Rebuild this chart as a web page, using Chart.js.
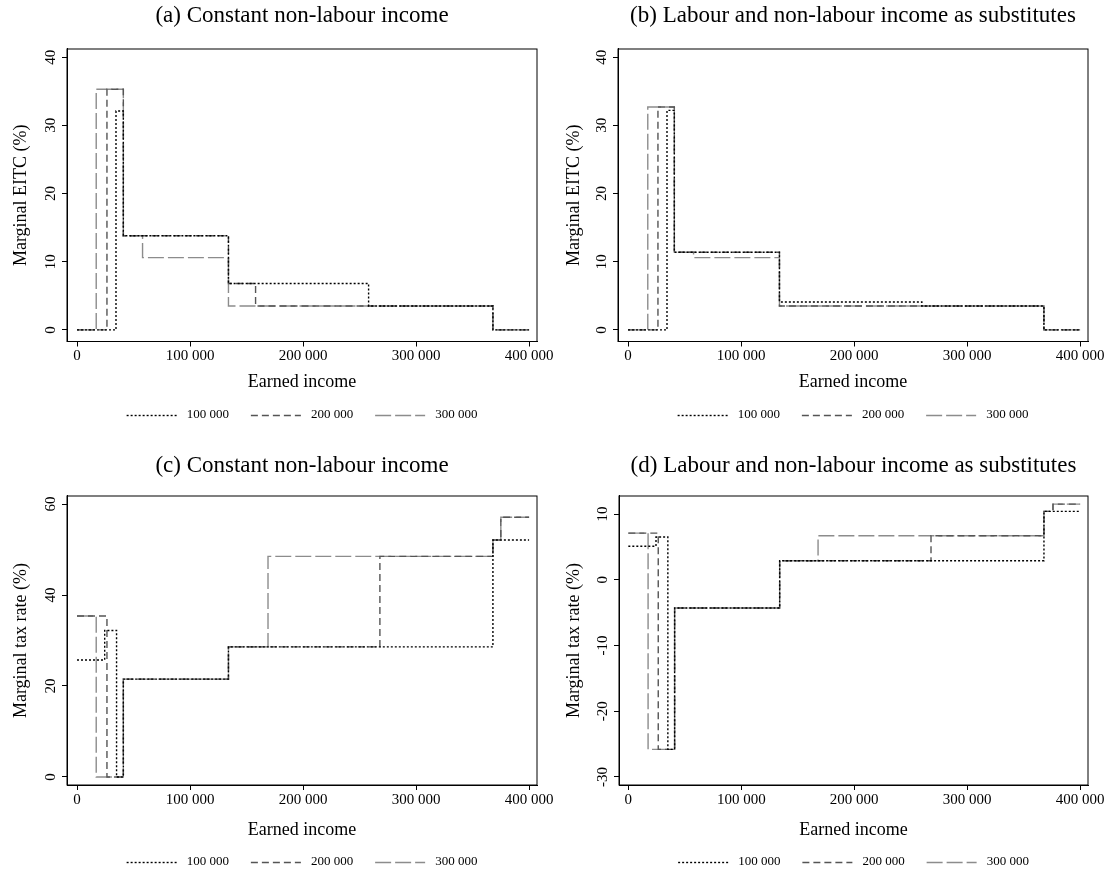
<!DOCTYPE html>
<html><head><meta charset="utf-8">
<script src="https://cdn.jsdelivr.net/npm/chart.js@4.4.1/dist/chart.umd.min.js"></script>
<style>
html,body{margin:0;padding:0;background:#fff;overflow:hidden;width:1108px;height:873px;position:relative}
canvas{position:absolute}
</style></head><body>
<canvas id="ca" width="554" height="437" style="left:0;top:0"></canvas>
<canvas id="cb" width="554" height="437" style="left:554px;top:0"></canvas>
<canvas id="cc" width="554" height="450" style="left:0;top:437px"></canvas>
<canvas id="cd" width="554" height="450" style="left:554px;top:437px"></canvas>
<script>
// ---- data ----
const seriesLabels = ['100 000', '200 000', '300 000'];
const xTickValues = [0, 100000, 200000, 300000, 400000];
const xTickLabels = ['0', '100 000', '200 000', '300 000', '400 000'];

// (a) Marginal EITC, constant non-labour income (value holds from x onward)
const a100X = [0, 34500, 41000, 134000, 258000, 368000, 400000];
const a100Y = [0, 32.1, 13.8, 6.8, 3.5, 0, 0];
const a200X = [0, 26500, 41000, 134000, 158000, 368000, 400000];
const a200Y = [0, 35.3, 13.8, 6.8, 3.5, 0, 0];
const a300X = [0, 17000, 41000, 58000, 134000, 368000, 400000];
const a300Y = [0, 35.3, 13.8, 10.6, 3.5, 0, 0];
const aYTicks = [0, 10, 20, 30, 40];

// (b) Marginal EITC, substitutes
const b100X = [0, 34500, 41000, 134000, 260000, 368000, 400000];
const b100Y = [0, 32.2, 11.4, 4.1, 3.5, 0, 0];
const b200X = [0, 26500, 41000, 134000, 368000, 400000];
const b200Y = [0, 32.7, 11.4, 3.5, 0, 0];
const b300X = [0, 17500, 41000, 58000, 134000, 368000, 400000];
const b300Y = [0, 32.7, 11.4, 10.6, 3.5, 0, 0];
const bYTicks = [0, 10, 20, 30, 40];

// (c) Marginal tax rate, constant non-labour income
const c100X = [0, 24500, 35000, 41000, 134000, 368000, 400000];
const c100Y = [25.7, 32.2, 0, 21.5, 28.6, 52.1, 52.1];
const c200X = [0, 26500, 41000, 134000, 268000, 368000, 375000, 400000];
const c200Y = [35.4, 0, 21.5, 28.6, 48.5, 52.1, 57.1, 57.1];
const c300X = [0, 17000, 41000, 134000, 169000, 368000, 375000, 400000];
const c300Y = [35.4, 0, 21.5, 28.6, 48.5, 52.1, 57.1, 57.1];
const cYTicks = [0, 20, 40, 60];

// (d) Marginal tax rate, substitutes
const d100X = [0, 24500, 35000, 41000, 134000, 368000, 400000];
const d100Y = [5.1, 6.5, -25.8, -4.3, 2.9, 10.4, 10.4];
const d200X = [0, 26500, 41000, 134000, 268000, 368000, 376000, 400000];
const d200Y = [7.1, -25.8, -4.3, 2.9, 6.7, 10.4, 11.5, 11.5];
const d300X = [0, 17500, 41000, 134000, 168000, 368000, 376000, 400000];
const d300Y = [7.1, -25.8, -4.3, 2.9, 6.7, 10.4, 11.5, 11.5];
const dYTicks = [-30, -20, -10, 0, 10];

// ---- styles ----
const FONT = 'Liberation Serif';
const lineStyles = [
  {color: '#000000', dash: [2, 2]},
  {color: '#555555', dash: [7, 4]},
  {color: '#8c8c8c', dash: [16, 4]}
];

const framePlugin = {
  id: 'frame',
  afterDatasetsDraw(chart) {
    const {ctx, chartArea: {left, top, right, bottom}} = chart;
    ctx.save();
    ctx.strokeStyle = '#000';
    ctx.lineWidth = 1;
    ctx.setLineDash([]);
    ctx.strokeRect(left, top, right - left, bottom - top);
    ctx.restore();
  }
};

// legend drawn from the datasets (dashed line samples + labels)
const dashLegend = {
  id: 'dashLegend',
  afterDraw(chart, args, opts) {
    const {ctx, chartArea} = chart;
    const ds = chart.data.datasets;
    const lineW = 50, gapText = 10, gapItem = 22;
    ctx.save();
    ctx.font = '13px "' + FONT + '"';
    ctx.textBaseline = 'middle';
    ctx.textAlign = 'left';
    const widths = ds.map(d => ctx.measureText(d.label).width);
    let total = 0;
    widths.forEach((w, i) => { total += lineW + gapText + w + (i < widths.length - 1 ? gapItem : 0); });
    let x = (chartArea.left + chartArea.right) / 2 - total / 2;
    const y = opts.y;
    ds.forEach((d, i) => {
      ctx.beginPath();
      ctx.setLineDash(d.borderDash);
      ctx.strokeStyle = d.borderColor;
      ctx.lineWidth = d.borderWidth;
      ctx.moveTo(x, y + 0.5);
      ctx.lineTo(x + lineW, y + 0.5);
      ctx.stroke();
      ctx.setLineDash([]);
      ctx.fillStyle = '#000';
      ctx.fillText(d.label, x + lineW + gapText, y);
      x += lineW + gapText + widths[i] + gapItem;
    });
    ctx.restore();
  }
};

function pts(xs, ys) { return xs.map((x, i) => ({x: x, y: ys[i]})); }

function makePanel(id, p) {
  const W = 554;
  const axisBottom = p.legendY - 20.5;
  const datasets = p.series.map((s, i) => ({
    label: seriesLabels[i],
    data: pts(s[0], s[1]),
    stepped: true,
    borderColor: lineStyles[i].color,
    backgroundColor: lineStyles[i].color,
    borderDash: lineStyles[i].dash,
    borderWidth: 1.4,
    pointRadius: 0,
    fill: false
  }));
  new Chart(document.getElementById(id), {
    type: 'line',
    data: {datasets: datasets},
    plugins: [framePlugin, dashLegend],
    options: {
      responsive: false,
      animation: false,
      layout: {padding: {left: 0, right: W - p.caRight, top: 0, bottom: p.H - axisBottom}},
      plugins: {
        tooltip: {enabled: false},
        legend: {display: false},
        dashLegend: {y: p.legendY},
        title: {
          display: true, text: p.title, color: '#000', fullSize: false,
          font: {family: FONT, size: 23, weight: 'normal'},
          padding: {top: p.titleY - 13.8, bottom: p.caTop - (p.titleY - 13.8) - 27.6}
        }
      },
      scales: {
        x: {
          type: 'linear', min: p.xMin, max: p.xMax,
          afterBuildTicks: s => { s.ticks = xTickValues.map(v => ({value: v})); },
          afterFit: s => { s.height = axisBottom - p.caBottom; s.paddingLeft = 0; s.paddingRight = 0; },
          ticks: {
            color: '#000', padding: 1, maxRotation: 0, minRotation: 0,
            font: {family: FONT, size: 15},
            callback: (v, i) => xTickLabels[i]
          },
          grid: {display: true, drawOnChartArea: false, drawTicks: true, tickLength: 5, color: '#000', lineWidth: 1},
          border: {display: true, color: '#000', width: 1},
          title: {
            display: true, text: 'Earned income', color: '#000',
            font: {family: FONT, size: 18},
            padding: {top: 0, bottom: axisBottom - p.xTitleY - 10.8}
          }
        },
        y: {
          type: 'linear', min: p.yMin, max: p.yMax,
          afterBuildTicks: s => { s.ticks = p.yTicks.map(v => ({value: v})); },
          afterFit: s => { s.width = p.caLeft; s.paddingTop = 0; s.paddingBottom = 0; },
          ticks: {
            color: '#000', padding: p.yTickPad, minRotation: 90, maxRotation: 90, crossAlign: 'center',
            font: {family: FONT, size: 15},
            callback: (v, i) => String(p.yTicks[i])
          },
          grid: {display: true, drawOnChartArea: false, drawTicks: true, tickLength: 5, color: '#000', lineWidth: 1},
          border: {display: true, color: '#000', width: 1},
          title: {
            display: true, text: p.yTitle, color: '#000',
            font: {family: FONT, size: 18},
            padding: {top: p.yTitleX - 10.8, bottom: 0}
          }
        }
      }
    }
  });
}

makePanel('ca', {
  title: '(a) Constant non-labour income', yTitle: 'Marginal EITC (%)',
  series: [[a100X, a100Y], [a200X, a200Y], [a300X, a300Y]], yTicks: aYTicks,
  yMin: -1.7, yMax: 41.2, xMin: -8850, xMax: 407000,
  H: 437, caLeft: 67, caRight: 537, caTop: 49, caBottom: 341.5,
  titleY: 16, xTitleY: 382, legendY: 415, yTitleX: 21, yTickPad: 3
});
makePanel('cb', {
  title: '(b) Labour and non-labour income as substitutes', yTitle: 'Marginal EITC (%)',
  series: [[b100X, b100Y], [b200X, b200Y], [b300X, b300Y]], yTicks: bYTicks,
  yMin: -1.7, yMax: 41.2, xMin: -8850, xMax: 407000,
  H: 437, caLeft: 64, caRight: 534, caTop: 49, caBottom: 341.5,
  titleY: 16, xTitleY: 382, legendY: 415, yTitleX: 20, yTickPad: 3
});
makePanel('cc', {
  title: '(c) Constant non-labour income', yTitle: 'Marginal tax rate (%)',
  series: [[c100X, c100Y], [c200X, c200Y], [c300X, c300Y]], yTicks: cYTicks,
  yMin: -1.76, yMax: 61.76, xMin: -8850, xMax: 407000,
  H: 450, caLeft: 67, caRight: 537, caTop: 59, caBottom: 348,
  titleY: 29, xTitleY: 393, legendY: 425, yTitleX: 21, yTickPad: 3
});
makePanel('cd', {
  title: '(d) Labour and non-labour income as substitutes', yTitle: 'Marginal tax rate (%)',
  series: [[d100X, d100Y], [d200X, d200Y], [d300X, d300Y]], yTicks: dYTicks,
  yMin: -31.22, yMax: 12.74, xMin: -8250, xMax: 407000,
  H: 450, caLeft: 65, caRight: 534, caTop: 59, caBottom: 348,
  titleY: 29, xTitleY: 393, legendY: 425, yTitleX: 20, yTickPad: 0.5
});
</script>
</body></html>
